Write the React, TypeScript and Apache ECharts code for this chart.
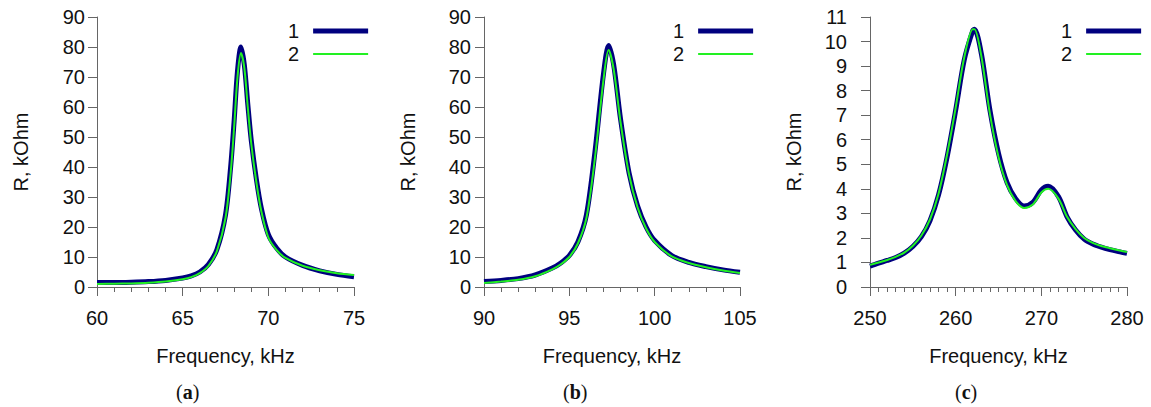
import React, { useEffect, useRef } from "react";
import * as echarts from "echarts";

const aFreq = [60, 61, 62, 63, 64, 65, 65.5, 66, 66.5, 67, 67.5, 67.8, 68, 68.2, 68.4, 68.6, 68.8, 69, 69.3, 69.6, 70, 70.5, 71, 72, 73, 74, 75];
const aR1 = [1.5, 1.5, 1.6, 1.8, 2.2, 3.0, 3.7, 5.0, 7.5, 12.5, 24, 40, 55, 72, 80, 74, 61, 49, 36, 26, 17.5, 12.8, 10, 7.2, 5.4, 4.2, 3.4];
const aR2 = [1.0, 1.1, 1.2, 1.4, 1.8, 2.6, 3.3, 4.6, 7.0, 12, 23, 38, 53, 70, 78, 73, 60, 48, 35, 25, 16.5, 12.2, 9.7, 7.1, 5.6, 4.6, 4.0];

const bFreq = [90, 91, 92, 93, 94, 94.5, 95, 95.5, 96, 96.5, 97, 97.3, 97.6, 98, 98.5, 99, 99.5, 100, 101, 102, 103, 104, 105];
const bR1 = [1.8, 2.2, 2.8, 4, 6.3, 8, 10.5, 15, 24, 45, 71, 80.5, 74, 56, 38, 27, 20, 15.5, 10.5, 8.2, 6.8, 5.7, 4.9];
const bR2 = [1.3, 1.8, 2.4, 3.6, 5.9, 7.6, 10, 14.5, 23, 43, 69, 79, 72.5, 55, 37.5, 26.5, 19.5, 15, 10.2, 8, 6.6, 5.5, 4.7];

const cFreq = [250, 251, 252, 253, 254, 255, 256, 257, 258, 259, 260, 261, 262, 262.2, 263, 264, 265, 266, 267, 268, 269, 270, 270.8, 272, 273, 274, 275, 276, 277, 278, 279, 280];
const cR1 = [0.85, 0.97, 1.08, 1.2, 1.38, 1.65, 2.05, 2.7, 3.75, 5.3, 7.2, 9.25, 10.45, 10.5, 9.5, 7.2, 5.45, 4.25, 3.6, 3.3, 3.45, 3.95, 4.1, 3.68, 2.86, 2.32, 1.95, 1.75, 1.62, 1.52, 1.44, 1.37];
const cR2 = [0.9, 1.0, 1.1, 1.23, 1.4, 1.68, 2.1, 2.75, 3.8, 5.4, 7.3, 9.35, 10.5, 10.5, 9.4, 7.05, 5.3, 4.15, 3.5, 3.22, 3.36, 3.85, 4.0, 3.6, 2.86, 2.36, 2.0, 1.8, 1.67, 1.58, 1.5, 1.43];

const seriesNames = ["1", "2"];
const captions = ["a", "b", "c"];
const xTitle = "Frequency, kHz";
const yTitle = "R, kOhm";

const SANS = 'Arial, "Liberation Sans", sans-serif';
const SERIF = '"Times New Roman", "Liberation Serif", serif';
const AXIS = "#666666";
const NAVY = "#00007f";
const GREEN = "#22f022";

const panels = [
  { freq: aFreq, r1: aR1, r2: aR2, xmin: 60, xmax: 75, xint: 5, xsplit: 5, ymax: 90, yint: 10, left: 97, width: 257, labelMargin: 12, legendLeft: 283, capX: 188 },
  { freq: bFreq, r1: bR1, r2: bR2, xmin: 90, xmax: 105, xint: 5, xsplit: 5, ymax: 90, yint: 10, left: 484, width: 256, labelMargin: 13, legendLeft: 668, capX: 575 },
  { freq: cFreq, r1: cR1, r2: cR2, xmin: 250, xmax: 280, xint: 10, xsplit: 10, ymax: 11, yint: 1, left: 870, width: 257, labelMargin: 23, legendLeft: 1056, capX: 967 },
];

export default function App() {
  const ref = useRef<HTMLDivElement>(null);
  useEffect(() => {
    if (!ref.current) return;
    const chart = echarts.init(ref.current, undefined, { renderer: "svg" });
    const grid: any[] = [];
    const xAxis: any[] = [];
    const yAxis: any[] = [];
    const series: any[] = [];
    const legend: any[] = [];
    const graphic: any[] = [];
    panels.forEach((p, i) => {
      grid.push({ left: p.left, width: p.width, top: 17, height: 270 });
      xAxis.push({
        type: "value",
        gridIndex: i,
        min: p.xmin,
        max: p.xmax,
        interval: p.xint,
        name: xTitle,
        nameLocation: "middle",
        nameGap: 59,
        nameTextStyle: { fontFamily: SANS, fontSize: 20, color: "#111" },
        axisLine: { show: true, onZero: false, lineStyle: { color: AXIS, width: 1 } },
        axisTick: { show: true, inside: false, length: 9, lineStyle: { color: AXIS } },
        minorTick: { show: true, splitNumber: p.xsplit, length: 5, lineStyle: { color: AXIS } },
        splitLine: { show: false },
        axisLabel: { fontFamily: SANS, fontSize: 20, color: "#111", margin: 21 },
      });
      yAxis.push({
        type: "value",
        gridIndex: i,
        min: 0,
        max: p.ymax,
        interval: p.yint,
        name: yTitle,
        nameLocation: "middle",
        nameGap: 66,
        nameTextStyle: { fontFamily: SANS, fontSize: 20, color: "#111" },
        axisLine: { show: true, lineStyle: { color: AXIS, width: 1 } },
        axisTick: { show: true, length: 9, lineStyle: { color: AXIS } },
        splitLine: { show: false },
        axisLabel: { fontFamily: SANS, fontSize: 20, color: "#111", margin: p.labelMargin },
      });
      series.push({
        type: "line",
        name: seriesNames[0],
        xAxisIndex: i,
        yAxisIndex: i,
        data: p.freq.map((f, k) => [f, p.r1[k]]),
        smooth: 0.3,
        symbol: "none",
        lineStyle: { color: NAVY, width: 5 },
        itemStyle: { color: NAVY },
        z: 2,
      });
      series.push({
        type: "line",
        name: seriesNames[1],
        xAxisIndex: i,
        yAxisIndex: i,
        data: p.freq.map((f, k) => [f, p.r2[k]]),
        smooth: 0.3,
        symbol: "none",
        lineStyle: { color: GREEN, width: 2 },
        itemStyle: { color: GREEN },
        z: 3,
      });
      legend.push({
        data: [
          { name: seriesNames[0], lineStyle: { width: 5, color: NAVY }, itemStyle: { opacity: 0 } },
          { name: seriesNames[1], lineStyle: { width: 2, color: GREEN }, itemStyle: { opacity: 0 } },
        ],
        orient: "vertical",
        left: p.legendLeft,
        top: 16,
        align: "right",
        itemWidth: 55,
        itemHeight: 20,
        itemGap: 3,
        selectedMode: false,
        itemStyle: { opacity: 0 },
        textStyle: { fontFamily: SANS, fontSize: 20, color: "#111", padding: [0, 9, 0, 0] },
      });
      graphic.push({
        type: "text",
        left: p.capX - 12,
        top: 382,
        style: {
          text: "{n|(}{b|" + captions[i] + "}{n|)}",
          rich: {
            n: { fontFamily: SERIF, fontSize: 20, fill: "#111" },
            b: { fontFamily: SERIF, fontSize: 20, fontWeight: "bold", fill: "#111" },
          },
        },
      });
    });
    chart.setOption({ animation: false, backgroundColor: "#fff", grid, xAxis, yAxis, series, legend, graphic });
    return () => chart.dispose();
  }, []);
  return <div ref={ref} style={{ position: "absolute", left: 0, top: 0, width: 1151, height: 407 }} />;
}
